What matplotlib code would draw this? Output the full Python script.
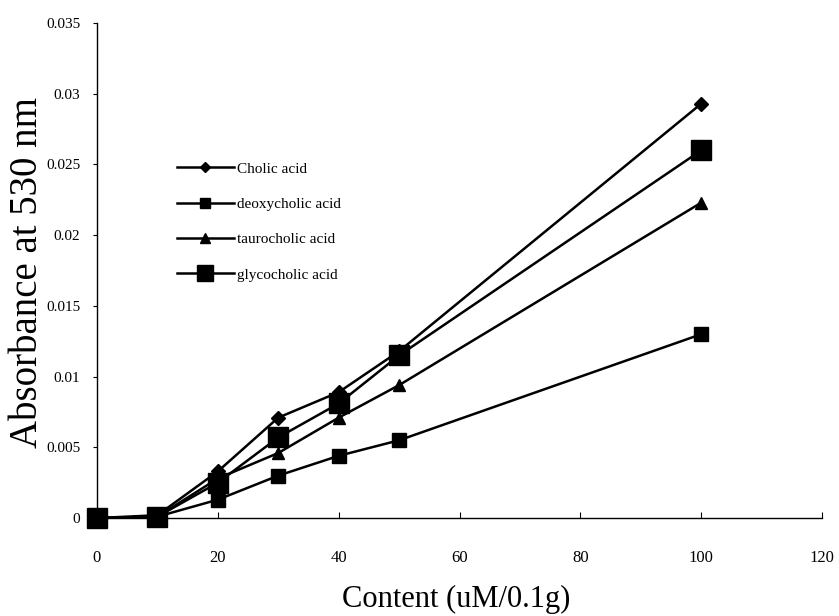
import matplotlib
matplotlib.use("Agg")
import matplotlib.pyplot as plt

plt.rcParams['font.family'] = ['Liberation Serif', 'DejaVu Serif']

content = [0, 10, 20, 30, 40, 50, 100]
cholic = [0.0, 0.0002, 0.0033, 0.0071, 0.0089, 0.0118, 0.0293]
deoxycholic = [0.0, 0.0001, 0.0013, 0.0030, 0.0044, 0.0055, 0.0130]
taurocholic = [0.0, 0.0001, 0.0028, 0.0046, 0.0071, 0.0094, 0.0223]
glycocholic = [0.0, 0.0001, 0.0025, 0.0057, 0.0081, 0.0115, 0.0260]

series_names = ['Cholic acid', 'deoxycholic acid', 'taurocholic acid', 'glycocholic acid']
x_ticks = [0, 20, 40, 60, 80, 100, 120]
y_ticks = [0, 0.005, 0.01, 0.015, 0.02, 0.025, 0.03, 0.035]
y_tick_labels = ['0', '0.005', '0.01', '0.015', '0.02', '0.025', '0.03', '0.035']

fig = plt.figure(figsize=(8.39, 6.16), dpi=100)
ax = fig.add_axes([0.1156, 0.159, 0.8644, 0.8037])

styles = [
    dict(marker='D', markersize=7),
    dict(marker='s', markersize=9.5),
    dict(marker='^', markersize=9),
    dict(marker='s', markersize=14),
]
for vals, name, st in zip([cholic, deoxycholic, taurocholic, glycocholic], series_names, styles):
    ax.plot(content, vals, color='black', lw=1.8, label=name,
            markerfacecolor='black', markeredgecolor='black', clip_on=False, **st)

ax.set_xlim(0, 120)
ax.set_ylim(0, 0.035)
ax.set_xticks(x_ticks)
ax.set_yticks(y_ticks)
ax.set_yticklabels(y_tick_labels)
for s in ['top', 'right']:
    ax.spines[s].set_visible(False)
for s in ['left', 'bottom']:
    ax.spines[s].set_linewidth(1.0)
ax.tick_params(axis='x', direction='in', length=4, labelsize=12, pad=23)
ax.tick_params(axis='y', direction='out', length=3, labelsize=11, pad=9)

ax.set_xlabel('Content (uM/0.1g)', fontsize=22)
ax.xaxis.set_label_coords(0.495, -0.18)
ax.xaxis.label.set_va('baseline')
ax.set_ylabel('Absorbance at 530 nm', fontsize=28)
ax.yaxis.set_label_coords(-0.0705, 0.495)

leg = ax.legend(loc='upper left', bbox_to_anchor=(0.1, 0.735), frameon=False,
                fontsize=11, handlelength=3.7, handletextpad=0.25,
                labelspacing=1.42, borderpad=0.0, markerscale=0.8)

fig.savefig('out.png', dpi=100)
